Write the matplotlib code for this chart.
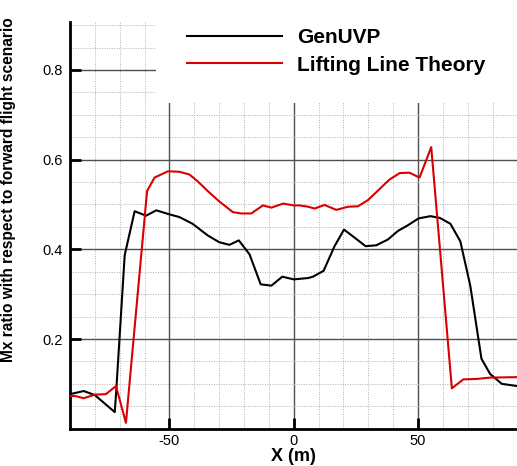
import matplotlib
matplotlib.use("Agg")
import matplotlib.pyplot as plt
from matplotlib.patches import Rectangle
from matplotlib.ticker import MultipleLocator

plt.rcParams['font.family'] = ['Liberation Sans', 'DejaVu Sans']

# GenUVP curve
x_genuvp = [-90, -84.5, -80, -72, -71.4, -68, -64, -59.4, -55.3, -50, -46, -40.7,
            -34.6, -30, -25.9, -22.1, -17.8, -13.3, -9, -4.6, 0, 5.8, 7.7, 12,
            16.4, 20.2, 24.5, 28.9, 33.2, 37.9, 41.9, 46, 50.2, 55, 58.8, 63,
            67, 71, 75.5, 79, 83.7, 90]
y_genuvp = [0.077, 0.084, 0.075, 0.037, 0.085, 0.387, 0.485, 0.475, 0.487, 0.478,
            0.472, 0.457, 0.431, 0.416, 0.410, 0.420, 0.389, 0.322, 0.319, 0.339,
            0.333, 0.336, 0.339, 0.352, 0.407, 0.444, 0.426, 0.407, 0.409, 0.422,
            0.441, 0.454, 0.469, 0.474, 0.470, 0.457, 0.418, 0.319, 0.156, 0.122,
            0.100, 0.095]

# Lifting Line Theory curve
x_llt = [-90, -88, -84.5, -80, -75.6, -71.5, -67.5, -59, -56, -50.6, -46, -42,
         -38.7, -34.6, -30, -24.5, -21.1, -17.1, -12.4, -9, -4.3, 0, 2.3, 5.8,
         8.4, 12.4, 17.1, 21.8, 25.8, 29.9, 34.6, 38.6, 42.6, 46.5, 50.6, 55.3,
         63.6, 68.2, 73.7, 79, 90]
y_llt = [0.073, 0.073, 0.068, 0.076, 0.077, 0.095, 0.013, 0.530, 0.560, 0.574,
         0.573, 0.567, 0.552, 0.530, 0.507, 0.483, 0.480, 0.480, 0.498, 0.493,
         0.502, 0.498, 0.498, 0.495, 0.491, 0.499, 0.488, 0.495, 0.496, 0.510,
         0.535, 0.556, 0.570, 0.571, 0.560, 0.628, 0.090, 0.110, 0.111, 0.114,
         0.115]

fig = plt.figure(figsize=(5.17, 4.66), dpi=100)
ax = fig.add_axes([70 / 517, 37.3 / 466, 447.5 / 517, 406.7 / 466])

ax.plot(x_genuvp, y_genuvp, color='black', lw=1.5, label='GenUVP', zorder=3)
ax.plot(x_llt, y_llt, color='#d80000', lw=1.5, label='Lifting Line Theory', zorder=3)

ax.set_xlim(-90, 90)
ax.set_ylim(0, 0.907)

# grid: solid majors, dotted minors
ax.xaxis.set_major_locator(MultipleLocator(50))
ax.xaxis.set_minor_locator(MultipleLocator(10))
ax.yaxis.set_major_locator(MultipleLocator(0.2))
ax.yaxis.set_minor_locator(MultipleLocator(0.05))
ax.set_axisbelow(True)
ax.grid(which='major', color='#505050', lw=1.0, ls='-')
ax.grid(which='minor', color='#b0b0b0', lw=0.7, ls=(0, (1, 1.5)))

# white box behind the legend hides the grid there
ax.add_patch(Rectangle((0.192, 0.801), 0.82, 0.21, transform=ax.transAxes,
                       facecolor='white', edgecolor='none', zorder=1, clip_on=False))

for side in ['top', 'right']:
    ax.spines[side].set_visible(False)
for side in ['left', 'bottom']:
    ax.spines[side].set_linewidth(2)

ax.tick_params(which='major', direction='in', length=8, width=2, labelsize=10.5)
ax.tick_params(axis='y', pad=5)
ax.tick_params(axis='x', pad=4)
ax.tick_params(which='minor', length=0)
ax.set_yticks([0.2, 0.4, 0.6, 0.8])
ax.set_yticklabels(['0.2', '0.4', '0.6', '0.8'])
ax.set_xticks([-50, 0, 50])
ax.set_xticklabels(['-50', '0', '50'])

ax.set_xlabel('X (m)', fontsize=13, fontweight='bold', labelpad=0)
ax.set_ylabel('Mx ratio with respect to forward flight scenario', fontsize=11.2,
              fontweight='bold')
ax.yaxis.set_label_coords(-0.121, 0.587)

fig.legend(loc='upper left', bbox_to_anchor=(187 / 517, 1 - 28 / 466),
           frameon=False, fontsize=15, prop={'weight': 'bold', 'size': 15},
           handlelength=4.55, handletextpad=0.75, labelspacing=0.42,
           borderpad=0, borderaxespad=0)

fig.savefig('out.png', dpi=100)
